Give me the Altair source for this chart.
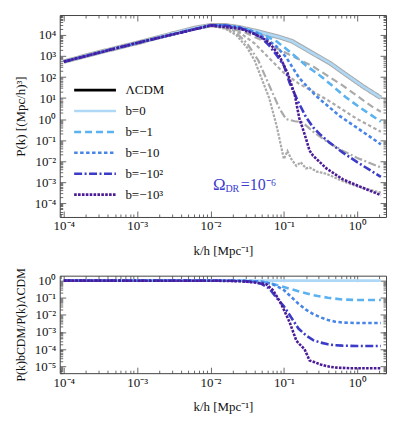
import altair as alt
import pandas as pd

FONT = "Liberation Serif"

# ---------------- series definitions ----------------
names = ["ΛCDM", "b=0", "b=−1", "b=−10", "b=−10²", "b=−10³"]
colors = ["#000000", "#aed8f5", "#5bb2f0", "#4785e6", "#3b3bc8", "#4b1a96"]
dashes = [[1, 0], [1, 0], [7, 4], [3.5, 2.5], [8, 2.5, 2, 2.5], [2.6, 1.3]]

# ---------------- top panel: P(k) [(Mpc/h)^3] ----------------
k_b0 = [1e-4, 3e-4, 1e-3, 3e-3, 6e-3, 1e-2, 1.6e-2, 2.5e-2, 4e-2, 6e-2, 8.7e-2, 0.13, 0.25, 0.42, 0.7, 1.2, 2.1]
P_b0 = [5.4e2, 1.48e3, 4.2e3, 1.15e4, 2.14e4, 2.88e4, 2.88e4, 2.29e4, 1.58e4, 1.10e4, 7.9e3, 5.0e3, 1.32e3, 4.7e2, 1.32e2, 35.5, 10.2]

k_b1 = [1e-4, 1e-3, 1e-2, 1.58e-2, 2.51e-2, 3.98e-2, 5.75e-2, 7.94e-2, 0.107, 0.141, 0.2, 0.316, 0.468, 0.708, 1.07, 2.1]
P_b1 = [5.4e2, 4.2e3, 2.88e4, 2.88e4, 2.24e4, 1.48e4, 8.9e3, 5.0e3, 2.24e3, 1.0e3, 3.55e2, 1.12e2, 36.3, 10.5, 3.7, 0.76]

k_b10 = [1e-4, 1e-3, 1e-2, 1.58e-2, 2.51e-2, 3.98e-2, 5.62e-2, 7.94e-2, 0.107, 0.162, 0.275, 0.398, 0.575, 1.0, 2.1]
P_b10 = [5.4e2, 4.2e3, 2.88e4, 2.88e4, 2.24e4, 1.41e4, 7.1e3, 2.82e3, 8.9e2, 89, 12.6, 4.2, 1.41, 0.38, 0.063]

k_b100 = [1e-4, 1e-3, 1e-2, 1.58e-2, 2.51e-2, 3.55e-2, 5.01e-2, 6.31e-2, 7.94e-2, 0.1, 0.12, 0.158, 0.2, 0.251, 0.316, 0.398, 0.631, 1.0, 2.1]
P_b100 = [5.4e2, 4.2e3, 2.88e4, 2.82e4, 2.19e4, 1.41e4, 7.1e3, 3.16e3, 1.12e3, 3.55e2, 52, 6.3, 1.26, 0.4, 0.178, 0.089, 0.026, 0.0089, 0.00178]

k_b1000 = [1e-4, 1e-3, 1e-2, 2.51e-2, 3.98e-2, 5.01e-2, 6.46e-2, 8.71e-2, 0.112, 0.141, 0.162, 0.191, 0.224, 0.251, 0.38, 0.631, 1.07, 2.1]
P_b1000 = [5.4e2, 4.2e3, 2.82e4, 2.0e4, 1.12e4, 7.6e3, 4.0e3, 1.0e3, 1.58e2, 14.1, 1.12, 0.2, 0.0316, 0.0178, 0.0045, 0.00138, 6.3e-4, 2.4e-4]

# grey reference curves (same b values, other Omega_DR)
k_gA = [1e-4, 1e-3, 1e-2, 1.58e-2, 2.82e-2, 5.01e-2, 0.1, 0.158, 0.251, 0.398, 0.631, 1.0, 1.58, 2.1]
P_gA = [5.4e2, 4.2e3, 2.82e4, 2.4e4, 1.41e4, 5.6e3, 1.58e3, 7.1e2, 3.16e2, 1.12e2, 40, 12.6, 4.0, 2.24]

k_gB = [1e-4, 1e-3, 1e-2, 1.58e-2, 2.51e-2, 3.98e-2, 6.31e-2, 0.1, 0.158, 0.251, 0.398, 0.631, 1.0, 2.1]
P_gB = [5.4e2, 4.2e3, 2.82e4, 2.24e4, 1.26e4, 3.98e3, 7.9e2, 1.58e2, 50, 20, 7.9, 2.82, 1.0, 0.25]

k_gC = [1e-4, 1e-3, 1e-2, 1.58e-2, 2.24e-2, 3.16e-2, 4.47e-2, 6.31e-2, 8.71e-2, 0.107, 0.141, 0.178, 0.251, 0.398, 0.631, 1.0, 2.1]
P_gC = [5.4e2, 4.2e3, 2.82e4, 2.14e4, 1.26e4, 3.98e3, 6.3e2, 40, 3.16, 1.0, 0.79, 0.71, 0.25, 0.079, 0.0316, 0.0141, 0.005]

k_gD = [1e-4, 1e-3, 1e-2, 1.58e-2, 2.24e-2, 3.16e-2, 3.98e-2, 5.01e-2, 6.31e-2, 7.94e-2, 0.1, 0.112, 0.126, 0.148, 0.17, 0.2, 0.224, 0.282, 0.38, 0.631, 1.0, 2.1]
P_gD = [5.4e2, 4.2e3, 2.82e4, 2.0e4, 1.0e4, 2.51e3, 6.3e2, 79, 10, 0.5, 0.0126, 0.03, 0.0126, 0.0059, 0.0089, 0.0045, 0.005, 0.00316, 0.0025, 0.00112, 6.3e-4, 3.16e-4]

# ---------------- bottom panel: ratio ----------------
k_r0 = [1e-4, 2.1]
r_b0 = [1.0, 1.0]

k_r1 = [1e-4, 1e-2, 2.51e-2, 3.98e-2, 6.31e-2, 0.1, 0.158, 0.251, 0.398, 0.631, 1.0, 2.1]
r_b1 = [1, 1, 0.99, 0.93, 0.76, 0.42, 0.24, 0.141, 0.1, 0.079, 0.074, 0.074]

k_r10 = [1e-4, 1e-2, 2.51e-2, 3.98e-2, 5.01e-2, 6.31e-2, 7.94e-2, 0.1, 0.126, 0.158, 0.2, 0.251, 0.316, 0.398, 0.5, 0.631, 1.0, 2.1]
r_b10 = [1, 1, 0.977, 0.933, 0.871, 0.708, 0.5, 0.282, 0.112, 0.0447, 0.02, 0.0112, 0.00708, 0.005, 0.00398, 0.00355, 0.00331, 0.00331]

k_r100 = [1e-4, 1e-2, 2e-2, 3.16e-2, 3.98e-2, 5.01e-2, 6.31e-2, 7.94e-2, 0.1, 0.126, 0.158, 0.2, 0.251, 0.316, 0.398, 0.5, 0.631, 1.0, 2.1]
r_b100 = [1, 1, 0.977, 0.912, 0.832, 0.631, 0.355, 0.1, 0.0316, 0.00708, 0.00158, 6.3e-4, 3.3e-4, 2.4e-4, 1.9e-4, 1.66e-4, 1.58e-4, 1.51e-4, 1.51e-4]

k_r1000 = [1e-4, 1e-2, 1.58e-2, 2.51e-2, 3.16e-2, 3.98e-2, 5.01e-2, 5.75e-2, 7.08e-2, 8.71e-2, 0.1, 0.12, 0.148, 0.162, 0.191, 0.224, 0.263, 0.316, 0.38, 0.5, 0.794, 2.1]
r_b1000 = [1, 0.989, 0.966, 0.912, 0.851, 0.776, 0.676, 0.617, 0.282, 0.066, 0.02, 0.00363, 3.1e-4, 2.0e-4, 1.0e-4, 2.14e-5, 1.7e-5, 1.26e-5, 1.0e-5, 8.3e-6, 7.6e-6, 7.6e-6]

# annotation
ann_k = [0.0108]
ann_P = [7.5e-4]
ann_parts = ["Ω", "DR", "=10⁻⁶"]

# axis tick values / labels
x_major = [1e-4, 1e-3, 1e-2, 1e-1, 1e0]
x_minor = [m * 10.0 ** e for e in range(-5, 1) for m in range(2, 10) if 8.8e-5 <= m * 10.0 ** e <= 2.47]
ytop_major = [10.0 ** e for e in range(-4, 5)]
ytop_minor = [m * 10.0 ** e for e in range(-5, 5) for m in range(2, 10) if 2.2e-5 <= m * 10.0 ** e <= 8.9e4]
ybot_major = [10.0 ** e for e in range(-5, 1)]
ybot_minor = [m * 10.0 ** e for e in range(-6, 1) for m in range(2, 10) if 3.9e-6 <= m * 10.0 ** e <= 1.95]

sup = {-5: "⁻⁵", -4: "⁻⁴", -3: "⁻³", -2: "⁻²", -1: "⁻¹", 0: "⁰", 1: "¹", 2: "²", 3: "³", 4: "⁴"}
lab_expr = "".join(f"round(log(datum.value)/LN10) == {e} ? '10{s}' : " for e, s in sup.items()) + "''"


def frame(k, v, s):
    return pd.DataFrame({"k": k, "v": v, "s": s})


top_series = [(k_b0, P_b0, names[1]), (k_b1, P_b1, names[2]), (k_b10, P_b10, names[3]),
              (k_b100, P_b100, names[4]), (k_b1000, P_b1000, names[5])]
bot_series = [(k_r0, r_b0, names[1]), (k_r1, r_b1, names[2]), (k_r10, r_b10, names[3]),
              (k_r100, r_b100, names[4]), (k_r1000, r_b1000, names[5])]
grey_series = [(k_b0, P_b0, [1, 0], 4.6), (k_gA, P_gA, dashes[2], 2.2), (k_gB, P_gB, dashes[3], 2.2),
               (k_gC, P_gC, dashes[4], 2.2), (k_gD, P_gD, dashes[5], 2.2)]

xs = alt.Scale(type="log", domain=[8.8e-5, 2.47], nice=False)
ys_top = alt.Scale(type="log", domain=[2.2e-5, 8.9e4], nice=False)
ys_bot = alt.Scale(type="log", domain=[3.9e-6, 1.95], nice=False)
cscale = alt.Scale(domain=names, range=colors)
dscale = alt.Scale(domain=names, range=dashes)

legend = alt.Legend(
    title=None, orient="none", legendX=23.5, legendY=63.5, symbolType="M-2,0H2",
    symbolSize=441, symbolStrokeWidth=2.6, labelFontSize=13, labelOffset=18.5,
    rowPadding=2, padding=0, labelFont=FONT, labelColor="#111",
)


def color_layer(df, ys, leg):
    return alt.Chart(df).mark_line(strokeWidth=2.6, clip=True).encode(
        x=alt.X("k:Q", scale=xs, axis=None),
        y=alt.Y("v:Q", scale=ys, axis=None),
        color=alt.Color("s:N", scale=cscale, legend=leg),
        strokeDash=alt.StrokeDash("s:N", scale=dscale, legend=leg),
    )


def grey_layer(df, dash, width):
    return alt.Chart(df).mark_line(color="#aaaaaa", strokeWidth=width, strokeDash=dash, clip=True).encode(
        x=alt.X("k:Q", scale=xs, axis=None),
        y=alt.Y("v:Q", scale=ys_top, axis=None),
    )


def axis_layers(df, ys, ymaj, ymin, ytitle, xtitle, ytitle_size):
    def lay(xa, ya):
        return alt.Chart(df).mark_line(opacity=0).encode(
            x=alt.X("k:Q", scale=xs, axis=xa), y=alt.Y("v:Q", scale=ys, axis=ya))

    xl = alt.Axis(orient="bottom", values=x_major, labelExpr=lab_expr, ticks=False, tickSize=0,
                  domain=False, grid=False, labelPadding=3, labelFontSize=13, labelFlush=False,
                  labelOverlap=False, title=xtitle, titlePadding=12, titleFontSize=13)
    yl = alt.Axis(orient="left", values=ymaj, labelExpr=lab_expr, ticks=False, tickSize=0,
                  domain=False, grid=False, labelPadding=4, labelFontSize=13, labelFlush=False,
                  labelOverlap=False, title=ytitle, titlePadding=1, titleFontSize=ytitle_size,
                  minExtent=31, maxExtent=31)

    def tk(orient, vals, size):
        return alt.Axis(orient=orient, values=vals, labels=False, domain=False, grid=False,
                        ticks=True, tickSize=size, offset=-size, title="", tickColor="#444",
                        tickWidth=0.8)

    return [lay(xl, yl),
            lay(tk("bottom", x_major, 6), tk("left", ymaj, 6)),
            lay(tk("bottom", x_minor, 3), tk("left", ymin, 3)),
            lay(tk("top", x_major, 6), tk("right", ymaj, 6)),
            lay(tk("top", x_minor, 3), tk("right", ymin, 3))]


# ---------- top chart ----------
df_b0 = frame(k_b0, P_b0, names[1])
top_layers = axis_layers(df_b0, ys_top, ytop_major, ytop_minor, "P(k)  [(Mpc/h)³]", "k/h   [Mpc⁻¹]", 13)
for k, v, dash, w in grey_series:
    top_layers.append(grey_layer(frame(k, v, "grey"), dash, w))
for k, v, s in top_series:
    top_layers.append(color_layer(frame(k, v, s), ys_top, legend))

df_ann = pd.DataFrame({"k": ann_k, "v": ann_P})
ann_color = "#3b3bd0"
for txt, size, dx, dy in [(ann_parts[0], 17, 0, 0), (ann_parts[1], 10, 12.5, 4), (ann_parts[2], 16, 28, 0)]:
    top_layers.append(
        alt.Chart(df_ann).mark_text(text=txt, fontSize=size, dx=dx, dy=dy, align="left",
                                    baseline="middle", color=ann_color, font=FONT).encode(
            x=alt.X("k:Q", scale=xs, axis=None), y=alt.Y("v:Q", scale=ys_top, axis=None))
    )

top = alt.layer(*top_layers).resolve_axis(x="independent", y="independent").properties(width=328, height=203)

# ---------- bottom chart ----------
df_r0 = frame(k_r0, r_b0, names[1])
bot_layers = axis_layers(df_r0, ys_bot, ybot_major, ybot_minor, "P(k)bCDM/P(k)ΛCDM", "k/h   [Mpc⁻¹]", 12)
for k, v, s in bot_series:
    bot_layers.append(color_layer(frame(k, v, s), ys_bot, None))
bottom = alt.layer(*bot_layers).resolve_axis(x="independent", y="independent").properties(width=328, height=98)

chart = (
    alt.vconcat(top, bottom, spacing=59, bounds="flush")
    .resolve_scale(color="independent", strokeDash="independent")
    .properties(padding={"left": 6, "top": 5, "right": 4, "bottom": 2})
    .configure_view(stroke="#444", strokeWidth=1)
    .configure_axis(labelFont=FONT, titleFont=FONT, titleFontWeight="normal",
                    labelColor="#111", titleColor="#111")
    .configure_legend(labelFont=FONT)
    .configure_text(font=FONT)
)

chart.save("out.html", embed_options={"renderer": "svg", "actions": False})
